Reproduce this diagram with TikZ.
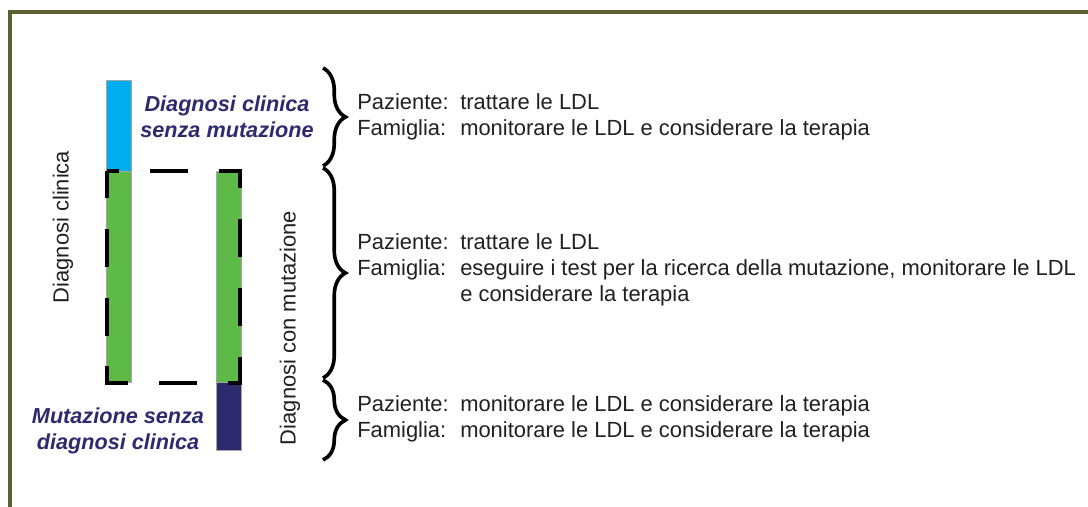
\documentclass[tikz,border=0pt]{standalone}
\usepackage{fontspec}
\setmainfont{Liberation Sans}
\usetikzlibrary{decorations.pathreplacing}
\definecolor{cadre}{HTML}{5F5F30}
\definecolor{bleu}{HTML}{00AEEF}
\definecolor{vert}{HTML}{5DBA47}
\definecolor{marine}{HTML}{2E2A6E}
\definecolor{texte}{HTML}{231F20}

\begin{document}
\begin{tikzpicture}[x=0.025cm,y=0.025cm,font=\fontsize{15.6pt}{18.5pt}\selectfont,text=texte]
% style des barres
\tikzstyle{barre}=[draw=gray!70,line width=0.6pt]
% style des textes
\tikzstyle{titre}=[font=\fontsize{15.4pt}{18.5pt}\selectfont\bfseries\itshape,text=marine,align=center]
\tikzstyle{vertical}=[rotate=90,inner sep=0pt]
\tikzstyle{bloc}=[anchor=west,inner sep=0pt,align=left]
\tikzstyle{accolade}=[decorate,decoration={brace,amplitude=16},line width=2.6pt]
\useasboundingbox (0,0) rectangle (1088,507);
% cadre
\draw[cadre,line width=2.2pt] (10,0) -- (10,495) -- (1088,495);
% barres
\filldraw[barre,fill=bleu] (106,427) rectangle (131,336);
\filldraw[barre,fill=vert] (106,336) rectangle (131,125);
\filldraw[barre,fill=vert] (216,336) rectangle (241,125);
\filldraw[barre,fill=marine] (216,125) rectangle (241,57);
\draw[line width=2.5pt,dash pattern=on 27 off 22,dash phase=8] (107,336) rectangle (240,124);
% textes des barres
\node[vertical] (DC) at (63,280) {Diagnosi clinica};
\node[vertical] (DM) at (290,179) {Diagnosi con mutazione};
\node[titre] (DSM) at (227,390) {Diagnosi clinica\\senza mutazione};
\node[titre] (MSD) at (118,76) {Mutazione senza\\diagnosi clinica};
% accolades
\coordinate (A1) at (323,439);
\coordinate (B1) at (323,341);
\coordinate (A2) at (323,339);
\coordinate (B2) at (323,129);
\coordinate (A3) at (323,127);
\coordinate (B3) at (323,47);
\draw[accolade] (A1) -- (B1);
\draw[accolade] (A2) -- (B2);
\draw[accolade] (A3) -- (B3);
% placement des textes
\node[bloc] (T1) at (357,390) {\begin{tabular}{@{}p{2.575cm}@{}l@{}}
Paziente: & trattare le LDL\\
Famiglia: & monitorare le LDL e considerare la terapia
\end{tabular}};
\node[bloc] (T2) at (357,237) {\begin{tabular}{@{}p{2.575cm}@{}l@{}}
Paziente: & trattare le LDL\\
Famiglia: & eseguire i test per la ricerca della mutazione, monitorare le LDL\\
 & e considerare la terapia
\end{tabular}};
\node[bloc] (T3) at (357,87.5) {\begin{tabular}{@{}p{2.575cm}@{}l@{}}
Paziente: & monitorare le LDL e considerare la terapia\\
Famiglia: & monitorare le LDL e considerare la terapia
\end{tabular}};
\end{tikzpicture}
\end{document}
